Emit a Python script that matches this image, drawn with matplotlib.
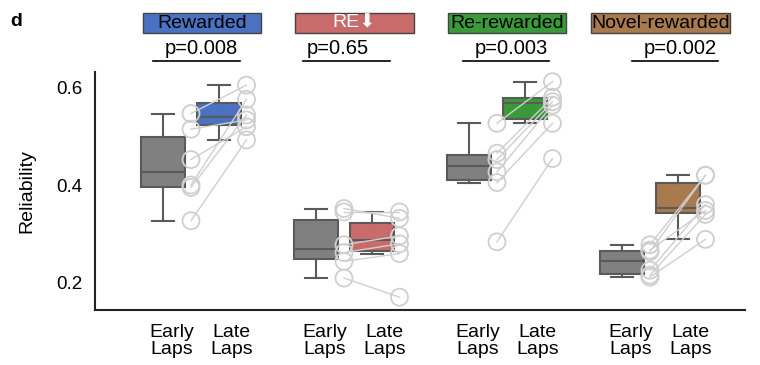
import numpy as np
import matplotlib.pyplot as plt
from matplotlib.patches import Rectangle
import matplotlib.transforms as mtransforms

plt.rcParams['font.family'] = ['Liberation Sans', 'DejaVu Sans']

# reliability per animal, early vs late laps
groups = ['Rewarded', 'RE\u2b07', 'Re-rewarded', 'Novel-rewarded']
pvals = ['p=0.008', 'p=0.65', 'p=0.003', 'p=0.002']
colors = ['#4a72c0', '#c96b6b', '#3a9a3a', '#a87a4e']
text_colors = ['black', 'white', 'black', 'black']

early = [
    [0.546, 0.514, 0.452, 0.400, 0.395, 0.327],
    [0.352, 0.345, 0.278, 0.262, 0.244, 0.210],
    [0.526, 0.465, 0.452, 0.427, 0.405, 0.284],
    [0.278, 0.267, 0.264, 0.226, 0.216, 0.212],
]
late = [
    [0.604, 0.533, 0.519, 0.575, 0.543, 0.492],
    [0.332, 0.345, 0.296, 0.280, 0.260, 0.171],
    [0.611, 0.579, 0.570, 0.563, 0.526, 0.454],
    [0.420, 0.348, 0.420, 0.360, 0.340, 0.289],
]
xlabels = ['Early\nLaps', 'Late\nLaps']

gap = 2.757
edge = '#5a5a5a'

fig = plt.figure(figsize=(7.6, 3.65), dpi=100)
ax = fig.add_axes([0.125, 0.151, 0.855, 0.652])

ticks, ticklabels = [], []
for i in range(4):
    x0 = i * gap
    pos = [x0, x0 + 1]
    bp = ax.boxplot([early[i], late[i]], positions=pos, widths=0.8,
                    patch_artist=True, showfliers=False, whis=1.5,
                    medianprops=dict(color=edge, lw=1.5),
                    whiskerprops=dict(color=edge, lw=1.5),
                    capprops=dict(color=edge, lw=1.5),
                    boxprops=dict(edgecolor=edge, lw=1.5))
    bp['boxes'][0].set_facecolor('#808080')
    bp['boxes'][1].set_facecolor(colors[i])

    # paired animals
    for a, b in zip(early[i], late[i]):
        ax.plot([x0 + 0.5, x0 + 1.5], [a, b], color='#cfcfcf', lw=1, zorder=3)
    ax.scatter([x0 + 0.5] * len(early[i]), early[i], s=150, facecolors='none',
               edgecolors='#cfcfcf', linewidths=1.3, zorder=4)
    ax.scatter([x0 + 1.5] * len(late[i]), late[i], s=150, facecolors='none',
               edgecolors='#cfcfcf', linewidths=1.3, zorder=4)

    ticks += [x0 + 0.15, x0 + 1.23]
    ticklabels += xlabels

ax.set_xlim(-1.23, 10.48)
ax.set_ylim(0.145, 0.631)
ax.set_yticks([0.2, 0.4, 0.6])
ax.set_yticklabels(['0.2', '0.4', '0.6'], fontsize=13.5)
ax.set_xticks(ticks)
ax.set_xticklabels(ticklabels, fontsize=14, linespacing=1.0)
ax.tick_params(length=0)
ax.tick_params(axis='y', pad=9)
ax.tick_params(axis='x', pad=10)
ax.set_ylabel('Reliability', fontsize=14, labelpad=15)
for s in ['top', 'right']:
    ax.spines[s].set_visible(False)
for s in ['left', 'bottom']:
    ax.spines[s].set_linewidth(1.5)
    ax.spines[s].set_color('#222222')

# group headers and p-values above the axes
trans = mtransforms.blended_transform_factory(ax.transData, ax.transAxes)
hdr_x = [0.694, 3.44, 6.2, 8.96]
hdr_w = [2.13, 2.14, 2.13, 2.52]
line_x = [(-0.19, 1.38), (2.51, 4.08), (5.4, 6.96), (8.44, 9.99)]
pv_x = [0.69, 3.14, 6.27, 9.31]
for i in range(4):
    ax.add_patch(Rectangle((hdr_x[i] - hdr_w[i] / 2, 1.165), hdr_w[i], 0.082,
                           transform=trans, clip_on=False, facecolor=colors[i],
                           edgecolor='#444444', lw=1))
    ax.text(hdr_x[i], 1.204, groups[i], transform=trans, ha='center', va='center',
            fontsize=14, color=text_colors[i])
    ax.text(pv_x[i], 1.10, pvals[i], transform=trans, ha='center', va='center',
            fontsize=14.5)
    ax.plot(line_x[i], [1.047, 1.047], transform=trans, clip_on=False,
            color='black', lw=1.2)

fig.text(0.013, 0.94, 'd', fontsize=14, fontweight='bold', va='center')

fig.savefig('out.png', dpi=100)
